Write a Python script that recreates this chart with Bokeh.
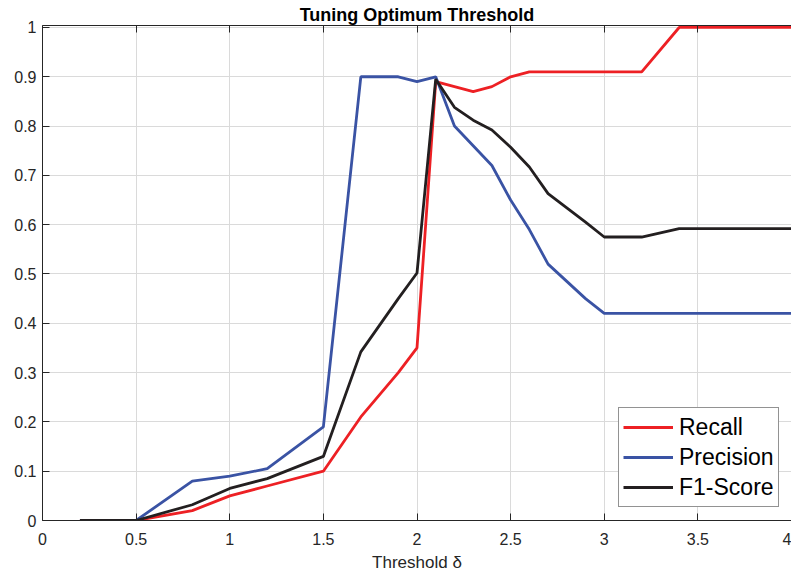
from bokeh.plotting import figure
from bokeh.models import (Range1d, FixedTicker, LinearAxis, CustomJSTickFormatter,
                          Legend, LegendItem)
from bokeh.embed import file_html
from bokeh.resources import INLINE

# ---- data ----
threshold = [0.2, 0.5, 0.8, 1.0, 1.2, 1.5, 1.7, 1.9, 2.0, 2.1, 2.2, 2.3, 2.4, 2.5,
             2.6, 2.7, 2.8, 2.9, 3.0, 3.2, 3.4, 3.6, 3.8, 4.0]
recall = [0, 0, 0.02, 0.05, 0.07, 0.10, 0.21, 0.30, 0.35, 0.89, 0.88, 0.87, 0.88, 0.90,
          0.91, 0.91, 0.91, 0.91, 0.91, 0.91, 1.0, 1.0, 1.0, 1.0]
precision = [0, 0, 0.08, 0.09, 0.105, 0.19, 0.90, 0.90, 0.89, 0.90, 0.80, 0.76, 0.72, 0.65,
             0.59, 0.52, 0.485, 0.45, 0.42, 0.42, 0.42, 0.42, 0.42, 0.42]
f1_score = [0, 0, 0.032, 0.065, 0.085, 0.13, 0.342, 0.45, 0.502, 0.895, 0.838, 0.812, 0.792,
            0.757, 0.717, 0.663, 0.634, 0.605, 0.575, 0.575, 0.592, 0.592, 0.592, 0.592]

x_ticks = [0, 0.5, 1, 1.5, 2, 2.5, 3, 3.5, 4]
y_ticks = [0, 0.1, 0.2, 0.3, 0.4, 0.5, 0.6, 0.7, 0.8, 0.9, 1]

series_names = ["Recall", "Precision", "F1-Score"]
series_colors = ["#ED2024", "#3A53A4", "#231F20"]

FONT = "Liberation Sans"
AX = "#262626"

p = figure(width=791, height=575, output_backend="svg", toolbar_location=None,
           x_range=Range1d(0, 4), y_range=Range1d(0, 1.004),
           title="Tuning Optimum Threshold",
           min_border_left=42, min_border_right=0, min_border_top=25, min_border_bottom=55)

p.title.align = "center"
p.title.text_font = FONT
p.title.text_font_size = "18px"
p.title.text_font_style = "bold"
p.title.text_color = "#000000"
p.title.offset = 0
p.title.standoff = 2

p.outline_line_color = None
p.background_fill_color = "white"
p.border_fill_color = "white"

fmt = CustomJSTickFormatter(code="var s = tick.toFixed(1); return s.replace(/\\.0$/, '');")

for ax, ticks in ((p.xaxis[0], x_ticks), (p.yaxis[0], y_ticks)):
    ax.ticker = FixedTicker(ticks=ticks)
    ax.formatter = fmt
    ax.major_tick_in = 7
    ax.major_tick_out = 0
    ax.minor_tick_line_color = None
    ax.axis_line_color = AX
    ax.major_tick_line_color = AX
    ax.major_label_text_font = FONT
    ax.major_label_text_font_size = "16px"
    ax.major_label_text_color = AX

p.xaxis.major_label_standoff = 12
p.yaxis.major_label_standoff = 6
p.xaxis.axis_label = "Threshold δ"
p.xaxis.axis_label_text_font = FONT
p.xaxis.axis_label_text_font_size = "17px"
p.xaxis.axis_label_text_font_style = "normal"
p.xaxis.axis_label_text_color = AX
p.xaxis.axis_label_standoff = 5

top = LinearAxis(ticker=FixedTicker(ticks=x_ticks), major_tick_in=7, major_tick_out=0,
                 minor_tick_line_color=None,
                 formatter=CustomJSTickFormatter(code="return '';"),
                 major_label_standoff=0, axis_line_color=AX, major_tick_line_color=AX)
p.add_layout(top, "above")

p.xgrid.ticker = FixedTicker(ticks=x_ticks)
p.ygrid.ticker = FixedTicker(ticks=y_ticks)
p.grid.grid_line_color = "#dadada"
p.grid.grid_line_width = 1

renderers = []
for vals, name, col in zip([recall, precision, f1_score], series_names, series_colors):
    r = p.line(threshold, vals, line_color=col, line_width=2.8)
    renderers.append(r)

legend = Legend(items=[LegendItem(label=n, renderers=[r]) for n, r in zip(series_names, renderers)],
                location=(576, 13))
legend.label_text_font = FONT
legend.label_text_font_size = "23px"
legend.label_text_color = "#000000"
legend.glyph_width = 50
legend.glyph_height = 30
legend.label_height = 30
legend.label_standoff = 6
legend.spacing = 0
legend.padding = 4
legend.margin = 0
legend.border_line_color = AX
legend.border_line_width = 1
legend.background_fill_alpha = 1
p.add_layout(legend, "center")

open("out.html", "w").write(file_html(p, INLINE))
